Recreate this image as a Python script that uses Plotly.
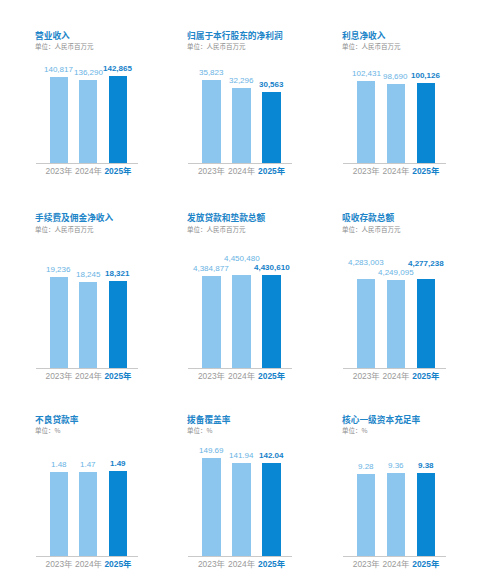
import plotly.graph_objects as go

# Panel titles and units
titles = ["营业收入", "归属于本行股东的净利润", "利息净收入",
          "手续费及佣金净收入", "发放贷款和垫款总额", "吸收存款总额",
          "不良贷款率", "拨备覆盖率", "核心一级资本充足率"]
units = ["单位：人民币百万元"] * 6 + ["单位：%"] * 3
years = ["2023年", "2024年", "2025年"]

# Values per panel (2023, 2024, 2025)
revenue = [140817, 136290, 142865]
net_profit = [35823, 32296, 30563]
net_interest = [102431, 98690, 100126]
fee_income = [19236, 18245, 18321]
loans = [4384877, 4450480, 4430610]
deposits = [4283003, 4249095, 4277238]
npl_ratio = [1.48, 1.47, 1.49]
provision_coverage = [149.69, 141.94, 142.04]
cet1_ratio = [9.28, 9.36, 9.38]

series = [revenue, net_profit, net_interest, fee_income, loans, deposits,
          npl_ratio, provision_coverage, cet1_ratio]

# layout helpers: page pixels, the html body adds an 8px margin
OFF = 8
W, H = 480 - OFF, 584 - OFF
col_x = [(36, 138), (188, 292), (343, 446)]
row_base = [163, 368, 556]
plot_h = 100
y_max = [163650, 43160, 124900, 21140, 4785000, 4812000, 1.753, 152.7, 11.3]
label_raise = [[0, 0, 0]] * 4 + [[0, 9, 0], [9, 0, 8]] + [[0, 0, 0]] * 3
title_y = [35, 218, 419]

LIGHT = "#8cc6ee"
DARK = "#0a87d2"
LIGHT_TXT = "#69b3e4"
DARK_TXT = "#1581c9"
TITLE_C = "#1d85c8"
GREY = "#8c8c8c"
FONT = "Noto Sans CJK SC"
NUM_FONT = "Liberation Sans"


def px_x(v):
    return (v - OFF) / W


def px_y(v):
    return 1 - (v - OFF) / H


fig = go.Figure()
annotations = []

for i, vals in enumerate(series):
    r, c = divmod(i, 3)
    n = "" if i == 0 else str(i + 1)
    x0, x1 = col_x[c]
    base = row_base[r]

    fig.add_trace(go.Bar(
        x=[0, 1, 2], y=vals, width=0.61,
        marker=dict(color=[LIGHT, LIGHT, DARK], line=dict(width=0)),
        xaxis="x" + n, yaxis="y" + n, showlegend=False, hoverinfo="skip",
    ))

    fig.update_layout(**{
        "xaxis" + n: dict(
            domain=[px_x(x0), px_x(x1)], range=[-0.78, 2.68],
            anchor="y" + n,
            tickvals=[0, 1, 2],
            ticktext=[years[0], years[1],
                      "<b><span style='color:%s'>%s</span></b>" % (DARK_TXT, years[2])],
            tickfont=dict(family=NUM_FONT + ", " + FONT, size=8.4, color="#9a9a9a"),
            showline=True, linecolor="#c9c9c9", linewidth=1,
            showgrid=False, zeroline=False, ticks="", fixedrange=True,
        ),
        "yaxis" + n: dict(
            domain=[px_y(base), px_y(base - plot_h)],
            anchor="x" + n,
            range=[0, y_max[i]], visible=False, fixedrange=True,
        ),
    })

    # value labels
    for j, v in enumerate(vals):
        txt = f"{v:,}" if isinstance(v, int) else f"{v:.2f}"
        last = j == 2
        annotations.append(dict(
            xref="x" + n, yref="y" + n, x=j, y=v,
            text=f"<b>{txt}</b>" if last else txt,
            showarrow=False, yanchor="bottom", yshift=1 + label_raise[i][j],
            font=dict(family=NUM_FONT, size=8,
                      color=DARK_TXT if last else LIGHT_TXT),
        ))

    # title and unit line
    annotations.append(dict(
        xref="paper", yref="paper", x=px_x(x0 - 3), y=px_y(title_y[r]),
        xanchor="left", yanchor="middle", showarrow=False,
        text=f"<b>{titles[i]}</b>",
        font=dict(family=FONT, size=8.7, color=TITLE_C),
    ))
    annotations.append(dict(
        xref="paper", yref="paper", x=px_x(x0 - 3), y=px_y(title_y[r] + 11),
        xanchor="left", yanchor="middle", showarrow=False,
        text=units[i],
        font=dict(family=FONT, size=6.5, color=GREY),
    ))

fig.update_layout(
    width=W, height=H,
    margin=dict(l=0, r=0, t=0, b=0),
    paper_bgcolor="white", plot_bgcolor="white",
    annotations=annotations,
    bargap=0,
)

fig.write_html("out.html")
